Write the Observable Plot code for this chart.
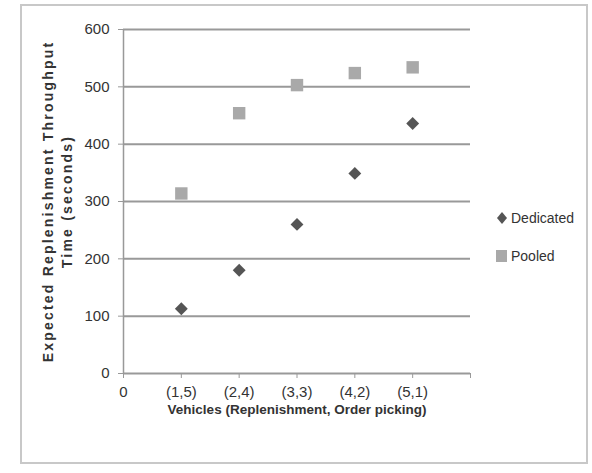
<!DOCTYPE html>
<html>
<head>
<meta charset="utf-8">
<script src="https://cdn.jsdelivr.net/npm/d3@7"></script>
<script src="https://cdn.jsdelivr.net/npm/@observablehq/plot@0.6"></script>
<style>
  html, body { margin: 0; padding: 0; background: #fff; }
  #wrap { position: relative; width: 592px; height: 473px; }
  #frame { position: absolute; left: 20px; top: 4px; width: 568px; height: 460px; border: 2px solid #c8c8c8; box-sizing: border-box; }
  #legend { position: absolute; left: 496px; top: 210px; font-family: "Liberation Sans", Arial, sans-serif; font-size: 14px; color: #333; }
  #legend div { height: 38px; display: flex; align-items: flex-start; }
  #legend svg { margin-right: 3px; margin-top: 2px; }
  svg.plot { position: absolute; left: 0; top: 0; }
</style>
</head>
<body>
<div id="wrap">
  <div id="frame"></div>
  <div id="legend"></div>
</div>
<script>
const positions = [1, 2, 3, 4, 5];
const tickLabels = ["0", "(1,5)", "(2,4)", "(3,3)", "(4,2)", "(5,1)"];
const dedicated = [113, 180, 260, 349, 436];
const pooled = [314, 454, 503, 524, 534];
const seriesNames = ["Dedicated", "Pooled"];
const yTicks = [0, 100, 200, 300, 400, 500, 600];

const data = [];
positions.forEach((p, i) => {
  data.push({x: p, y: dedicated[i], s: "Dedicated"});
  data.push({x: p, y: pooled[i], s: "Pooled"});
});

const font = '"Liberation Sans", Arial, sans-serif';

const chart = Plot.plot({
  width: 592,
  height: 473,
  marginLeft: 123,
  marginRight: 122,
  marginTop: 29,
  marginBottom: 100,
  style: { fontFamily: font, fontSize: "13px", color: "#333", background: "transparent" },
  x: { domain: [0, 6] },
  y: { domain: [0, 600] },
  marks: [
    Plot.ruleY(yTicks, { x1: 0, x2: 6, stroke: "#999", strokeWidth: 2 }),
    Plot.ruleX([0], { y1: 0, y2: 600, stroke: "#999", strokeWidth: 1.5 }),
    Plot.axisY({
      ticks: yTicks, tickSize: 5, tickPadding: 9, stroke: "#999",
      fontSize: 15, fill: "#333",
      label: "Expected Replenishment Throughput\nTime (seconds)",
      labelAnchor: "center", labelArrow: "none", labelOffset: 80
    }),
    Plot.axisX({
      ticks: [0, 1, 2, 3, 4, 5, 6], tickSize: 5, tickPadding: 8, stroke: "#999",
      fontSize: 15, fill: "#333",
      tickFormat: d => tickLabels[d] ?? "",
      label: "Vehicles (Replenishment, Order picking)",
      labelAnchor: "center", labelArrow: "none", labelOffset: 40
    }),
    Plot.dot(data.filter(d => d.s === "Pooled"), { x: "x", y: "y", symbol: "square", r: 7, fill: "#a9a9a9", stroke: "none" }),
    Plot.dot(data.filter(d => d.s === "Dedicated"), { x: "x", y: "y", symbol: "diamond2", r: 5.8, fill: "#555", stroke: "none" })
  ]
});

chart.querySelectorAll('[aria-label="y-axis label"] text, [aria-label="x-axis label"] text').forEach(t => {
  t.setAttribute("font-weight", "bold");
});
const yl = chart.querySelector('[aria-label="y-axis label"]');
if (yl) {
  yl.setAttribute("font-size", "14");
  yl.setAttribute("letter-spacing", "2.2");
  const tspans = yl.querySelectorAll("tspan");
  if (tspans.length > 1) tspans[1].setAttribute("dy", "1.3em");
}
const xl = chart.querySelector('[aria-label="x-axis label"]');
if (xl) { xl.setAttribute("font-size", "13.5"); }

document.getElementById("wrap").appendChild(chart);

const legend = document.getElementById("legend");
const legendStyles = [
  { name: seriesNames[0], shape: "diamond", color: "#555" },
  { name: seriesNames[1], shape: "square", color: "#a9a9a9" }
];
legendStyles.forEach(l => {
  const row = document.createElement("div");
  const sw = l.shape === "diamond"
    ? `<svg width="12" height="12"><path d="M6 0L11 6L6 12L1 6Z" fill="${l.color}"/></svg>`
    : `<svg width="12" height="12"><rect x="0" y="0" width="11" height="12" fill="${l.color}"/></svg>`;
  row.innerHTML = sw + `<span>${l.name}</span>`;
  legend.appendChild(row);
});
</script>
</body>
</html>
